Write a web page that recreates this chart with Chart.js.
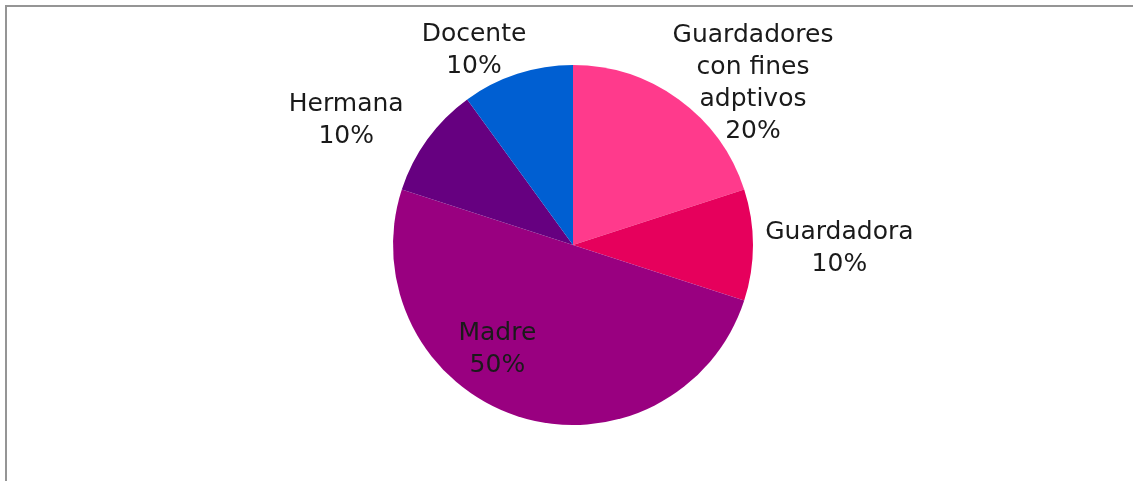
<!DOCTYPE html>
<html>
<head>
<meta charset="utf-8">
<script src="https://cdn.jsdelivr.net/npm/chart.js@4"></script>
<style>
    html, body { margin: 0; padding: 0; background: #fff; }
    #wrap { width: 1133px; height: 481px; position: relative; }
</style>
</head>
<body>
<div id="wrap"><canvas id="pieChart"></canvas></div>
<script>
// Slices, clockwise from 12 o'clock
const labels = [
    ["Guardadores", "con fines", "adptivos"],
    ["Guardadora"],
    ["Madre"],
    ["Hermana"],
    ["Docente"],
];
const percentages = [20, 10, 50, 10, 10];
const sliceColors = ["#FF3A8C", "#E6005C", "#990080", "#660080", "#005FD2"];

// Where each label block sits, relative to the pie centre, in units of the radius
const labelOffsets = [
    [1.0, -0.9],
    [1.48, 0.02],
    [-0.42, 0.58],
    [-1.26, -0.69],
    [-0.55, -1.08],
];

const FONT = "'DejaVu Sans', sans-serif";

// Draws the grey frame of the chart area
const framePlugin = {
    id: "frame",
    beforeDraw(chart) {
        const ctx = chart.ctx;
        ctx.save();
        ctx.strokeStyle = "#959595";
        ctx.lineWidth = 2;
        ctx.strokeRect(6, 6, chart.width + 20, chart.height + 20);
        ctx.restore();
    },
};

// Draws "name / pct%" labels next to each slice
const sliceLabels = {
    id: "sliceLabels",
    afterDatasetsDraw(chart) {
        const ctx = chart.ctx;
        const meta = chart.getDatasetMeta(0);
        ctx.save();
        ctx.font = `25px ${FONT}`;
        ctx.fillStyle = "#1a1a1a";
        ctx.textAlign = "center";
        ctx.textBaseline = "middle";
        const lineH = 32;
        meta.data.forEach((arc, i) => {
            const { x, y, outerRadius } = arc.getProps(["x", "y", "outerRadius"], true);
            const lines = labels[i].concat([percentages[i] + "%"]);
            const cx = x + outerRadius * labelOffsets[i][0];
            const cy = y + outerRadius * labelOffsets[i][1];
            const top = cy - ((lines.length - 1) * lineH) / 2;
            lines.forEach((t, k) => ctx.fillText(t, cx, top + k * lineH));
        });
        ctx.restore();
    },
};

new Chart(document.getElementById("pieChart"), {
    type: "pie",
    data: {
        labels: labels.map((l) => l.join(" ")),
        datasets: [{
            data: percentages,
            backgroundColor: sliceColors,
            borderWidth: 0,
        }],
    },
    options: {
        responsive: true,
        maintainAspectRatio: false,
        animation: false,
        layout: { padding: { top: 65, bottom: 56, left: 13, right: 0 } },
        plugins: {
            legend: { display: false },
            tooltip: { enabled: false },
        },
    },
    plugins: [framePlugin, sliceLabels],
});
</script>
</body>
</html>
